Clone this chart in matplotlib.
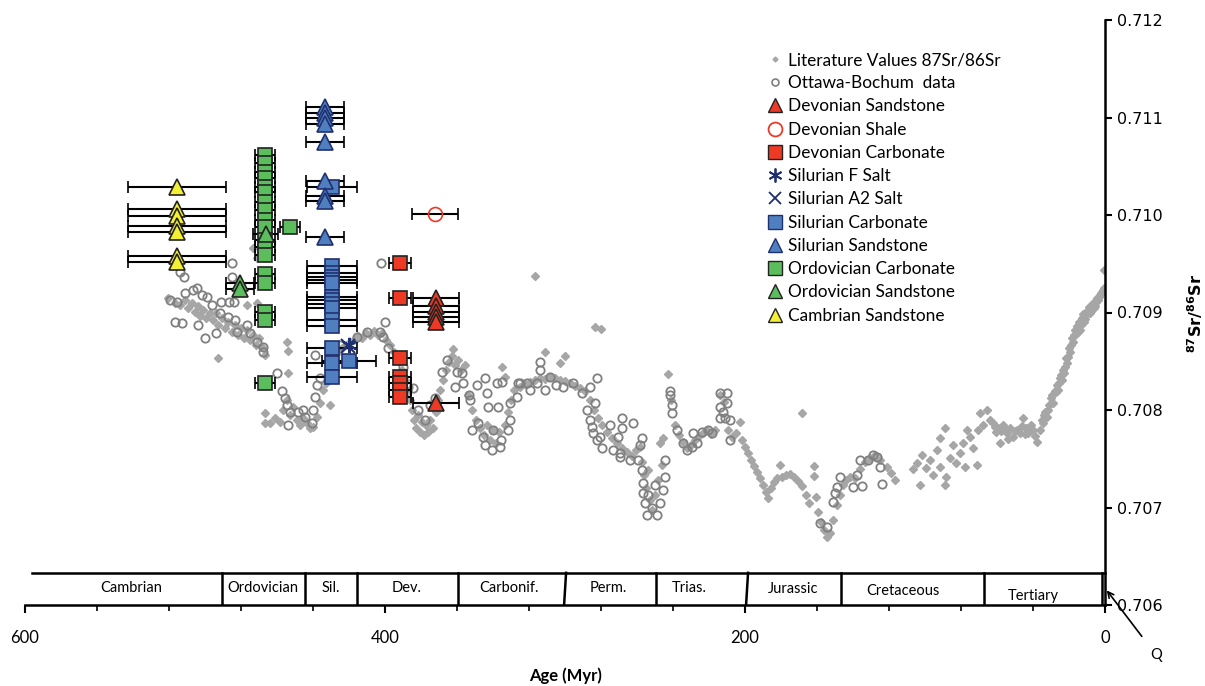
import matplotlib.pyplot as plt
from matplotlib.lines import Line2D
import numpy as np

plt.rcParams['font.family'] = ['Lato', 'DejaVu Sans']

# literature seawater 87Sr/86Sr curve (age Myr, ratio)
lit = [
    (520.6, 0.70915), (516.7, 0.70910), (513.9, 0.70908), (511.1, 0.70913), (509.4, 0.70905),
    (507.2, 0.70910), (505.6, 0.70901), (503.9, 0.70907), (502.8, 0.70896), (501.1, 0.70903),
    (499.4, 0.70894), (497.2, 0.70900), (495.6, 0.70892), (493.9, 0.70900), (492.8, 0.70887),
    (490.6, 0.70894), (488.9, 0.70884), (487.2, 0.70890), (485.0, 0.70880), (483.3, 0.70887),
    (481.7, 0.70877), (480.0, 0.70884), (478.3, 0.70874), (476.7, 0.70882), (475.0, 0.70872),
    (473.3, 0.70877), (471.7, 0.70867), (470.0, 0.70874), (468.3, 0.70865),
    (492.8, 0.70853), (473.3, 0.70966), (471.1, 0.70956), (476.7, 0.70908), (471.1, 0.70910),
    (466.7, 0.70856), (454.4, 0.70870), (453.9, 0.70861), (453.9, 0.70838),
    (466.7, 0.70797), (466.7, 0.70787), (463.9, 0.70787), (461.1, 0.70792), (458.3, 0.70788),
    (456.7, 0.70800), (454.4, 0.70810), (452.8, 0.70795), (451.1, 0.70803), (448.9, 0.70790),
    (447.2, 0.70785), (445.6, 0.70792), (443.3, 0.70787), (441.7, 0.70782), (440.0, 0.70783),
    (437.8, 0.70793), (436.1, 0.70807), (434.4, 0.70821), (432.8, 0.70828), (431.7, 0.70836),
    (430.6, 0.70805), (429.4, 0.70843), (427.8, 0.70851),
    (426.1, 0.70859), (423.9, 0.70864), (421.7, 0.70867), (419.4, 0.70870), (417.2, 0.70872),
    (415.0, 0.70876), (412.8, 0.70874), (410.6, 0.70879), (408.3, 0.70877), (406.1, 0.70881),
    (403.9, 0.70877), (401.7, 0.70879), (399.4, 0.70872), (397.2, 0.70867), (395.0, 0.70860),
    (392.8, 0.70851), (390.6, 0.70841), (388.9, 0.70831),
    (387.2, 0.70819), (386.1, 0.70810), (385.0, 0.70800), (383.9, 0.70790), (382.8, 0.70782),
    (381.7, 0.70795), (380.6, 0.70777), (379.4, 0.70788), (378.3, 0.70774), (377.2, 0.70785),
    (376.1, 0.70777), (375.0, 0.70790), (373.3, 0.70782), (371.7, 0.70798), (370.6, 0.70810),
    (369.4, 0.70821),
    (367.8, 0.70831), (366.1, 0.70841), (364.4, 0.70849), (362.8, 0.70855), (362.2, 0.70863),
    (361.1, 0.70846), (359.4, 0.70851), (357.8, 0.70841), (355.6, 0.70846),
    (353.9, 0.70815), (351.7, 0.70800), (349.4, 0.70790), (347.2, 0.70782), (345.0, 0.70774),
    (343.3, 0.70785), (341.7, 0.70769), (340.0, 0.70780), (338.3, 0.70766), (336.7, 0.70777),
    (335.0, 0.70844), (333.3, 0.70834), (333.3, 0.70785), (331.7, 0.70798), (330.0, 0.70810),
    (328.3, 0.70821),
    (325.0, 0.70824), (322.2, 0.70827), (319.4, 0.70829), (316.7, 0.70831), (313.9, 0.70833),
    (311.1, 0.70832), (308.3, 0.70834), (305.6, 0.70833), (302.8, 0.70831), (300.0, 0.70830),
    (297.2, 0.70828), (294.4, 0.70825), (291.7, 0.70823), (288.9, 0.70819),
    (316.7, 0.70937), (311.1, 0.70859), (300.0, 0.70855), (302.8, 0.70848), (283.3, 0.70885),
    (280.0, 0.70883),
    (286.1, 0.70810), (283.9, 0.70800), (281.7, 0.70792), (279.4, 0.70785), (276.7, 0.70777),
    (273.9, 0.70771), (271.1, 0.70766), (268.3, 0.70761), (265.6, 0.70757), (262.8, 0.70753),
    (260.6, 0.70759), (258.3, 0.70762),
    (257.2, 0.70747), (256.1, 0.70733), (255.0, 0.70720), (253.9, 0.70738), (252.8, 0.70708),
    (251.7, 0.70697), (250.0, 0.70713), (248.3, 0.70728), (247.2, 0.70766), (245.6, 0.70771),
    (246.1, 0.70744),
    (242.8, 0.70837), (241.1, 0.70810), (238.9, 0.70785), (236.7, 0.70774), (234.4, 0.70767),
    (232.2, 0.70761), (230.0, 0.70764), (227.8, 0.70769), (225.6, 0.70773), (223.3, 0.70776),
    (221.1, 0.70779), (218.9, 0.70775), (216.7, 0.70779), (213.9, 0.70815), (211.7, 0.70808),
    (209.4, 0.70779), (207.2, 0.70772), (205.0, 0.70776), (202.8, 0.70788), (201.7, 0.70769),
    (200.0, 0.70762), (198.3, 0.70756), (196.7, 0.70749), (195.0, 0.70743), (193.3, 0.70736),
    (191.7, 0.70730), (190.0, 0.70723), (188.3, 0.70716), (187.2, 0.70710), (185.6, 0.70720),
    (183.9, 0.70726), (182.2, 0.70730), (180.6, 0.70744), (179.4, 0.70731), (177.2, 0.70733),
    (175.0, 0.70734), (172.8, 0.70731), (170.6, 0.70727), (168.3, 0.70797), (168.3, 0.70722),
    (166.1, 0.70713), (164.4, 0.70705), (161.7, 0.70743), (161.7, 0.70732), (160.6, 0.70711),
    (159.4, 0.70695), (157.8, 0.70685), (156.1, 0.70677), (154.4, 0.70670), (152.8, 0.70674),
    (151.1, 0.70687),
    (148.9, 0.70703), (147.2, 0.70713), (145.6, 0.70723), (143.9, 0.70728), (141.7, 0.70731),
    (138.9, 0.70730), (136.1, 0.70739), (133.3, 0.70747), (130.6, 0.70751), (127.8, 0.70754),
    (125.0, 0.70749), (121.1, 0.70742), (118.9, 0.70735), (116.7, 0.70728), (106.7, 0.70739),
    (104.4, 0.70746), (102.8, 0.70723), (101.7, 0.70754), (99.4, 0.70741), (97.2, 0.70749),
    (95.6, 0.70733), (93.3, 0.70759), (91.7, 0.70771), (91.7, 0.70742), (88.9, 0.70782),
    (88.9, 0.70723), (88.1, 0.70731), (86.1, 0.70751), (84.4, 0.70764), (82.8, 0.70746),
    (80.6, 0.70756), (78.9, 0.70766), (77.8, 0.70742), (76.7, 0.70780), (75.0, 0.70772),
    (73.3, 0.70761), (71.1, 0.70744), (70.6, 0.70780), (69.4, 0.70797), (67.8, 0.70785),
    (65.6, 0.70800), (63.9, 0.70790),
    (62.2, 0.70787), (60.6, 0.70777), (59.4, 0.70782), (58.3, 0.70766), (56.7, 0.70785),
    (54.4, 0.70776), (52.8, 0.70782), (51.1, 0.70772), (48.9, 0.70780), (47.2, 0.70776),
    (45.6, 0.70792), (43.9, 0.70782), (42.8, 0.70776), (41.1, 0.70785), (40.0, 0.70780),
    (38.9, 0.70773), (37.8, 0.70767),
    (61.1, 0.70783), (57.8, 0.70778), (55.6, 0.70781), (53.9, 0.70770), (50.0, 0.70778),
    (46.1, 0.70784), (44.4, 0.70775),
    (36.1, 0.70780), (34.4, 0.70787), (33.3, 0.70798), (32.2, 0.70793), (31.1, 0.70805),
    (30.0, 0.70812), (28.9, 0.70807), (27.8, 0.70819), (26.7, 0.70826), (26.1, 0.70821),
    (25.0, 0.70833), (23.9, 0.70831), (23.3, 0.70841), (22.2, 0.70844), (21.7, 0.70853),
    (20.6, 0.70854), (20.0, 0.70864), (18.9, 0.70867), (18.3, 0.70874), (17.2, 0.70877),
    (16.7, 0.70882), (15.6, 0.70886), (14.4, 0.70890), (13.9, 0.70882), (12.8, 0.70894),
    (11.7, 0.70890), (10.6, 0.70897), (9.4, 0.70903), (8.3, 0.70900), (7.2, 0.70908),
    (6.1, 0.70905), (5.0, 0.70911), (3.9, 0.70913), (2.8, 0.70918), (1.7, 0.70921),
    (0.6, 0.70925), (0.6, 0.70944),
    (35.0, 0.70790), (33.9, 0.70795), (31.7, 0.70800), (29.4, 0.70815), (27.2, 0.70818),
    (25.6, 0.70828), (24.4, 0.70836), (22.8, 0.70838), (21.1, 0.70848), (19.4, 0.70860),
    (17.8, 0.70870), (16.1, 0.70878), (15.0, 0.70880), (13.3, 0.70887), (12.2, 0.70898),
    (11.1, 0.70893), (10.0, 0.70900), (8.9, 0.70906), (7.8, 0.70902), (6.7, 0.70910),
    (5.6, 0.70907), (4.4, 0.70915), (3.3, 0.70916), (2.2, 0.70920), (1.1, 0.70923),
]

# Ottawa-Bochum data
ob = [
    (519.4, 0.70913), (515.6, 0.70911), (513.9, 0.70942), (511.7, 0.70936), (511.1, 0.70920),
    (506.7, 0.70923), (504.4, 0.70925), (501.7, 0.70918), (498.9, 0.70916), (496.1, 0.70908),
    (516.7, 0.70890), (512.8, 0.70889), (503.9, 0.70887), (500.0, 0.70874), (493.9, 0.70879),
    (491.1, 0.70911), (486.7, 0.70911), (485.0, 0.70951), (485.0, 0.70936), (483.9, 0.70911),
    (491.7, 0.70900), (487.2, 0.70895), (483.3, 0.70892), (482.2, 0.70880), (476.7, 0.70887),
    (475.0, 0.70879), (471.1, 0.70870), (467.8, 0.70865), (467.8, 0.70860), (460.0, 0.70838),
    (457.2, 0.70819), (455.6, 0.70812), (454.4, 0.70805), (452.8, 0.70798), (453.9, 0.70785),
    (448.3, 0.70798), (445.6, 0.70800), (444.4, 0.70793), (440.6, 0.70787), (440.0, 0.70800),
    (438.9, 0.70813), (437.8, 0.70826), (436.1, 0.70833), (438.9, 0.70856),
    (425.0, 0.70867), (415.6, 0.70875), (410.0, 0.70880), (402.8, 0.70880), (401.1, 0.70875),
    (400.0, 0.70890), (398.3, 0.70864), (402.2, 0.70951), (393.3, 0.70854), (390.0, 0.70844),
    (387.2, 0.70824), (384.4, 0.70823), (381.7, 0.70800), (377.8, 0.70790), (375.0, 0.70805),
    (372.2, 0.70812), (368.3, 0.70839), (365.6, 0.70851), (360.0, 0.70839), (357.2, 0.70838),
    (356.7, 0.70828), (361.1, 0.70824), (353.3, 0.70815), (352.8, 0.70810), (351.7, 0.70780),
    (348.9, 0.70826), (344.4, 0.70833), (343.3, 0.70817), (342.8, 0.70803), (337.8, 0.70828),
    (335.0, 0.70829), (337.2, 0.70803), (330.6, 0.70807), (326.7, 0.70813), (326.1, 0.70828),
    (345.6, 0.70772), (340.6, 0.70759), (336.1, 0.70762), (331.7, 0.70780), (330.6, 0.70790),
    (348.3, 0.70787), (340.0, 0.70780), (344.4, 0.70764), (335.6, 0.70769),
    (325.0, 0.70828), (321.1, 0.70828), (319.4, 0.70821), (315.6, 0.70828), (313.9, 0.70841),
    (313.9, 0.70849), (311.1, 0.70821), (308.3, 0.70834), (305.0, 0.70826), (301.1, 0.70824),
    (295.6, 0.70828), (290.6, 0.70817), (286.1, 0.70824), (282.2, 0.70833), (283.3, 0.70807),
    (287.8, 0.70800), (286.1, 0.70790), (285.0, 0.70783), (284.4, 0.70776), (282.2, 0.70769),
    (279.4, 0.70761), (280.6, 0.70772), (275.0, 0.70785), (273.3, 0.70759), (269.4, 0.70756),
    (269.4, 0.70752), (268.3, 0.70792), (268.3, 0.70782), (270.6, 0.70772), (263.9, 0.70749),
    (262.2, 0.70787), (257.2, 0.70771), (258.3, 0.70764), (259.4, 0.70749),
    (257.2, 0.70738), (256.7, 0.70725), (256.7, 0.70715), (255.6, 0.70705), (254.4, 0.70692),
    (251.7, 0.70700), (248.9, 0.70692), (247.2, 0.70705), (245.6, 0.70718), (244.4, 0.70731),
    (244.4, 0.70749), (253.9, 0.70713), (250.0, 0.70723),
    (241.7, 0.70820), (241.7, 0.70815), (240.6, 0.70805), (240.6, 0.70797), (237.8, 0.70780),
    (234.4, 0.70766), (232.2, 0.70759), (229.4, 0.70762), (228.9, 0.70776), (226.7, 0.70766),
    (223.9, 0.70777), (220.6, 0.70780), (218.3, 0.70776), (213.9, 0.70817), (210.0, 0.70817),
    (213.9, 0.70803), (212.2, 0.70798), (213.9, 0.70792), (210.0, 0.70807), (208.3, 0.70790),
    (208.3, 0.70769), (211.1, 0.70792),
    (158.3, 0.70684), (154.4, 0.70680), (151.1, 0.70706), (150.0, 0.70715), (148.9, 0.70721),
    (147.2, 0.70731), (140.0, 0.70721), (135.0, 0.70722), (137.8, 0.70733), (136.1, 0.70749),
    (131.7, 0.70749), (128.9, 0.70754), (126.7, 0.70752), (125.0, 0.70742), (123.9, 0.70724),
]

# samples with age error bars
camb_ss_age = [515.6] * 7
camb_ss_sr = [0.71029, 0.71006, 0.70999, 0.70989, 0.70983, 0.70958, 0.70952]
camb_ss_err = 27

ordo_ss_age = [480.6, 480.6, 466.3]
ordo_ss_sr = [0.70930, 0.70924, 0.70981]
ordo_ss_err = [8, 8, 7]

ordo_carb_age = [466.5] * 18 + [452.8]
ordo_carb_sr = [0.71062, 0.71053, 0.71044, 0.71038, 0.71029, 0.71024, 0.71013, 0.71005,
                0.70995, 0.70988, 0.70974, 0.70967, 0.70959, 0.70939, 0.70930, 0.70901,
                0.70892, 0.70828, 0.70988]
ordo_carb_err = 5.5

sil_ss_age = [433.3] * 9
sil_ss_sr = [0.71111, 0.71105, 0.71100, 0.71093, 0.71075, 0.71035, 0.71020, 0.71014, 0.70977]
sil_ss_err = 10.5

sil_carb_age = [429.4] * 14 + [429.6, 419.8]
sil_carb_sr = [0.70948, 0.70941, 0.70936, 0.70933, 0.70930, 0.70916, 0.70913, 0.70909,
               0.70905, 0.70892, 0.70886, 0.70864, 0.70848, 0.70834, 0.71029, 0.70850]
sil_carb_err = [14] * 14 + [14, 15]

sil_f_salt = (419.8, 0.70867)
sil_a2_salt = (420.5, 0.70866)

dev_carb_age = [391.7] * 7
dev_carb_sr = [0.70951, 0.70915, 0.70853, 0.70834, 0.70828, 0.70821, 0.70813]
dev_carb_err = 6

dev_ss_age = [371.7] * 6
dev_ss_sr = [0.70915, 0.70907, 0.70901, 0.70895, 0.70890, 0.70807]
dev_ss_err = 12.9

dev_shale = (372.2, 0.71001)
dev_shale_err = 12.9

# geological time scale
period_names = ['Cambrian', 'Ordovician', 'Sil.', 'Dev.', 'Carbonif.', 'Perm.',
                'Trias.', 'Jurassic', 'Cretaceous', 'Tertiary']
label_age = [541, 468, 430, 388, 331, 276, 231, 173, 112, 40]
label_sr = [0.70617, 0.70617, 0.70617, 0.70617, 0.70617, 0.70617,
            0.70617, 0.70616, 0.70614, 0.70609]
boundary_top = [490.6, 444.4, 415.6, 359.4, 299.4, 249.4, 198.3, 146.7, 67.2, 1.7]
boundary_bot = [490.6, 444.4, 415.6, 359.4, 300.5, 249.4, 199.4, 146.7, 67.2, 1.7]

RED = '#ee3a24'
BLUE = '#4f7fbf'
NAVY = '#1f3070'
GREEN = '#5cbd5c'
YELLOW = '#f4f033'
LIT = '#a6a6a6'
OB = '#808080'

fig = plt.figure(figsize=(12.05, 6.86), dpi=100)
ax = fig.add_axes([25 / 1205, 81 / 686, 1080 / 1205, 585 / 686])

lit_a = np.array(lit).T
ob_a = np.array(ob).T
ax.plot(lit_a[0], lit_a[1], 'D', ms=3.6, color=LIT, mec=LIT, zorder=2)
ax.plot(ob_a[0], ob_a[1], 'o', ms=6, mfc='none', mec=OB, mew=1.3, zorder=3)


def samples(age, sr, err, marker, ms, fc, ec):
    ax.errorbar(age, sr, xerr=err, fmt=marker, ms=ms, mfc=fc, mec=ec, mew=1.2,
                ecolor='black', elinewidth=1.5, capsize=4, capthick=1.5, zorder=5)


samples(camb_ss_age, camb_ss_sr, camb_ss_err, '^', 11, YELLOW, '#222222')
samples(ordo_carb_age, ordo_carb_sr, ordo_carb_err, 's', 10, GREEN, '#222222')
samples(ordo_ss_age, ordo_ss_sr, ordo_ss_err, '^', 11, GREEN, '#222222')
samples(sil_carb_age, sil_carb_sr, sil_carb_err, 's', 10.5, BLUE, NAVY)
samples(sil_ss_age, sil_ss_sr, sil_ss_err, '^', 11, BLUE, NAVY)
samples(dev_carb_age, dev_carb_sr, dev_carb_err, 's', 10, RED, '#222222')
samples(dev_ss_age, dev_ss_sr, dev_ss_err, '^', 11, RED, '#222222')
samples([dev_shale[0]], [dev_shale[1]], dev_shale_err, 'o', 10, 'none', RED)
ax.plot(*sil_a2_salt, 'x', ms=10, mec=NAVY, mew=1.5, zorder=6)
ax.plot(*sil_f_salt, marker=(6, 2, 0), ms=11, mec=NAVY, mew=1.5, zorder=6)

# time scale box
box_top = 0.70633
ax.plot([596, 0], [box_top, box_top], color='black', lw=1.8, zorder=4, clip_on=False)
for t, b in zip(boundary_top, boundary_bot):
    ax.plot([b, t], [0.706, box_top], color='black', lw=1.8, zorder=4)
for name, a, s in zip(period_names, label_age, label_sr):
    ax.text(a, s, name, ha='center', va='center', fontsize=10.5, zorder=4)

ax.set_xlim(600, 0)
ax.set_ylim(0.706, 0.712)
ax.set_xticks([600, 400, 200, 0])
ax.set_xticks(np.arange(0, 601, 40), minor=True)
ax.set_yticks(np.arange(0.706, 0.71201, 0.001))
ax.set_yticklabels(['%.3f' % v for v in np.arange(0.706, 0.71201, 0.001)],
                   family='DejaVu Sans', fontsize=11.5)
ax.yaxis.tick_right()
ax.tick_params(axis='x', which='major', direction='out', length=6, width=1.5,
               labelsize=12, pad=12)
ax.tick_params(axis='x', which='minor', direction='out', length=4, width=1.2)
ax.tick_params(axis='y', direction='out', length=5, width=1.5, pad=4)
for side in ['left', 'top']:
    ax.spines[side].set_visible(False)
for side in ['right', 'bottom']:
    ax.spines[side].set_linewidth(1.8)

ax.annotate('Q', xy=(-1.0, 0.70615), xytext=(1156, 31), textcoords='figure pixels',
            fontsize=10.5, ha='center', va='center', annotation_clip=False,
            arrowprops=dict(arrowstyle='->', lw=1.2, color='black', shrinkA=8, shrinkB=0))

fig.text(566 / 1205, 1 - 676 / 686, 'Age (Myr)', ha='center', va='center',
         fontsize=12, fontweight='bold')
fig.text(1195 / 1205, 1 - 313 / 686, r'$\mathbf{^{87}Sr/^{86}Sr}$', rotation=90,
         ha='center', va='center', fontsize=11.5)

handles = [
    Line2D([], [], ls='none', marker='D', ms=2.5, color=LIT),
    Line2D([], [], ls='none', marker='o', ms=5, mfc='none', mec=OB, mew=1.2),
    Line2D([], [], ls='none', marker='^', ms=10, mfc=RED, mec='#222222'),
    Line2D([], [], ls='none', marker='o', ms=10, mfc='none', mec=RED, mew=1.3),
    Line2D([], [], ls='none', marker='s', ms=10, mfc=RED, mec='#222222'),
    Line2D([], [], ls='none', marker=(6, 2, 0), ms=10, mec=NAVY, mew=1.3),
    Line2D([], [], ls='none', marker='x', ms=9, mec=NAVY, mew=1.3),
    Line2D([], [], ls='none', marker='s', ms=10, mfc=BLUE, mec=NAVY),
    Line2D([], [], ls='none', marker='^', ms=10, mfc=BLUE, mec=NAVY),
    Line2D([], [], ls='none', marker='s', ms=10, mfc=GREEN, mec='#222222'),
    Line2D([], [], ls='none', marker='^', ms=10, mfc=GREEN, mec='#222222'),
    Line2D([], [], ls='none', marker='^', ms=10, mfc=YELLOW, mec='#222222'),
]
labels = ['Literature Values 87Sr/86Sr', 'Ottawa-Bochum  data', 'Devonian Sandstone',
          'Devonian Shale', 'Devonian Carbonate', 'Silurian F Salt', 'Silurian A2 Salt',
          'Silurian Carbonate', 'Silurian Sandstone', 'Ordovician Carbonate',
          'Ordovician Sandstone', 'Cambrian Sandstone']
ax.legend(handles, labels, loc='upper left', bbox_to_anchor=(768 / 1205, 1 - 52 / 686),
          bbox_transform=fig.transFigure, frameon=False, fontsize=12.4, handlelength=0.8,
          handletextpad=0.35, labelspacing=0.42, borderpad=0, borderaxespad=0)

fig.savefig('out.png', dpi=100)
